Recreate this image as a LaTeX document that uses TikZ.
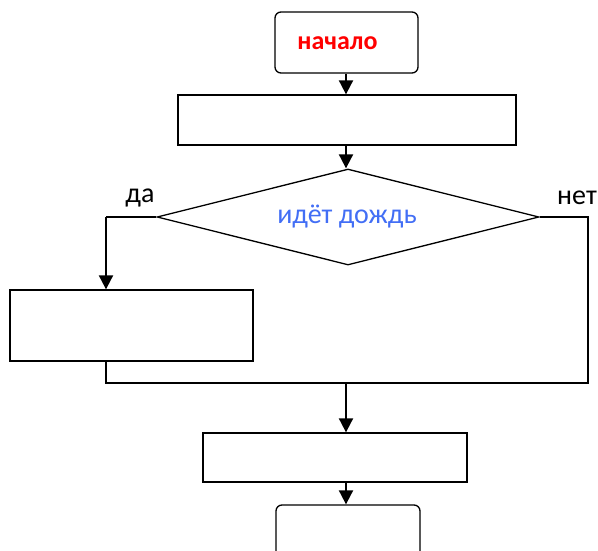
\documentclass[tikz,border=0pt]{standalone}
\usepackage{fontspec}
\setmainfont{Carlito}
\usetikzlibrary{shapes.geometric,arrows.meta}
\definecolor{startred}{RGB}{255,0,0}
\definecolor{condblue}{RGB}{66,110,245}
\tikzset{
  x=1pt,y=-1pt,
  blk/.style={draw,line width=1.3pt,inner sep=0pt,fill=white},
  term/.style={blk,rounded corners=6pt},
  cond/.style={draw,line width=1.3pt,shape=diamond,inner sep=0pt,aspect=3.98,minimum width=382pt,minimum height=96pt},
  flow/.style={line width=1.9pt,-{Triangle[length=14pt,width=14pt]}},
  wire/.style={line width=1.3pt},
  lbl/.style={font=\fontsize{28}{32}\selectfont,inner sep=0pt}
}
\begin{document}
\begin{tikzpicture}
\useasboundingbox (0,0) rectangle (598,550);
\clip (0,0) rectangle (598,550);
\node[term,minimum width=143pt,minimum height=61pt] (start) at (346.5,42.5) {};
\node[lbl,text=startred,font=\fontsize{26}{30}\selectfont\bfseries] (starttxt) at (337.5,43) {начало};
\node[blk,minimum width=338pt,minimum height=50pt] (b1) at (347,120) {};
\node[cond] (dec) at (348,217) {};
\node[lbl,text=condblue] (dectxt) at (347,217) {идёт дождь};
\node[lbl] (yes) at (140,198) {да};
\node[lbl] (no) at (577,198) {нет};
\node[blk,minimum width=243pt,minimum height=71pt] (b2) at (131.5,325.5) {};
\node[blk,minimum width=264pt,minimum height=49pt] (b3) at (335,457.5) {};
\node[term,minimum width=144pt,minimum height=80pt] (stop) at (348,545) {};
\coordinate (m) at (346,383);
\coordinate (lx) at (106,217);
\coordinate (rx) at (588,217);
\draw[flow] (start.south -| 346,0) -- (b1.north -| 346,0);
\draw[flow] (b1.south -| 346,0) -- (dec.north -| 346,0);
\draw[wire] (dec.west) -- (lx);
\draw[flow] (lx) -- (lx |- b2.north);
\draw[wire] (dec.east) -- (rx) -- (rx |- m) -- (lx |- m) -- (lx |- b2.south);
\draw[flow] (m) -- (m |- b3.north);
\draw[flow] (b3.south -| m) -- (stop.north -| m);
\end{tikzpicture}
\end{document}
